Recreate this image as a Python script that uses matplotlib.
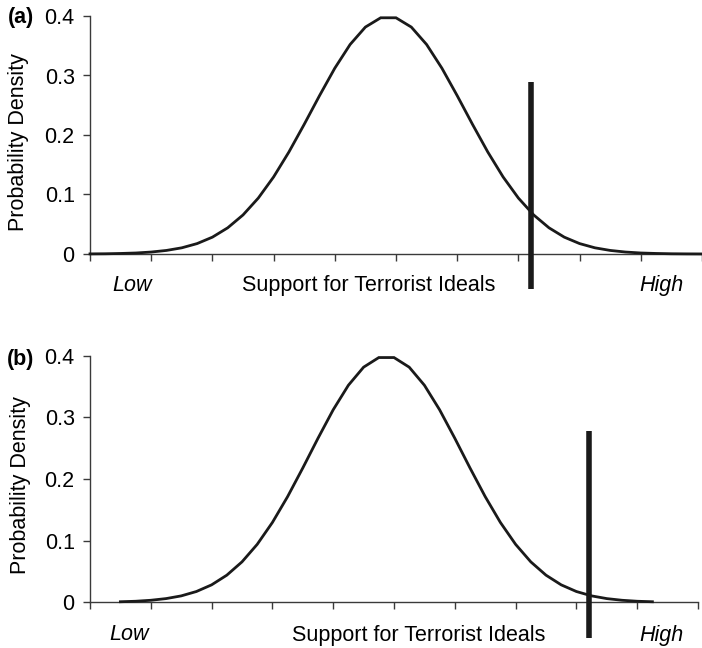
import matplotlib
matplotlib.use("Agg")
import matplotlib.pyplot as plt

plt.rcParams['font.family'] = ['Liberation Sans', 'DejaVu Sans']

# Category positions (index along the horizontal axis, 0..40)
pos_a = list(range(0, 41))
dens_a = [0.0002, 0.0004, 0.0009, 0.0017, 0.0033, 0.0060, 0.0104, 0.0175, 0.0283, 0.0440,
          0.0656, 0.0940, 0.1295, 0.1714, 0.2179, 0.2661, 0.3123, 0.3521, 0.3814, 0.3970,
          0.3970, 0.3814, 0.3521, 0.3123, 0.2661, 0.2179, 0.1714, 0.1295, 0.0940, 0.0656,
          0.0440, 0.0283, 0.0175, 0.0104, 0.0060, 0.0033, 0.0017, 0.0009, 0.0004, 0.0002,
          0.0001]
pos_b = list(range(2, 38))
dens_b = [0.0009, 0.0017, 0.0033, 0.0060, 0.0104, 0.0175, 0.0283, 0.0440,
          0.0656, 0.0940, 0.1295, 0.1714, 0.2179, 0.2661, 0.3123, 0.3521, 0.3814, 0.3970,
          0.3970, 0.3814, 0.3521, 0.3123, 0.2661, 0.2179, 0.1714, 0.1295, 0.0940, 0.0656,
          0.0440, 0.0283, 0.0175, 0.0104, 0.0060, 0.0033, 0.0017, 0.0009]

# Threshold markers: position, top, bottom
thr_a = (28.8, 0.289, -0.059)
thr_b = (32.8, 0.278, -0.058)

yticks = [0, 0.1, 0.2, 0.3, 0.4]
ytick_labels = ["0", "0.1", "0.2", "0.3", "0.4"]
xticks = list(range(0, 41, 4))
panel_labels = ["(a)", "(b)"]
ylabel = "Probability Density"
xlabel_mid = "Support for Terrorist Ideals"
xlabel_low = "Low"
xlabel_high = "High"

W, H = 702, 648
fig = plt.figure(figsize=(W / 100, H / 100), dpi=100)

def fx(px):
    return px / W

def fy(py):
    return 1 - py / H

axes_specs = [
    # left, top, right, bottom in pixels
    (90, 16, 702, 254),
    (90, 355.7, 698, 602.3),
]

axs = []
for (l, t, r, b) in axes_specs:
    ax = fig.add_axes([fx(l), fy(b), (r - l) / W, (b - t) / H])
    axs.append(ax)

fs = 15.5
data = [(pos_a, dens_a, thr_a), (pos_b, dens_b, thr_b)]
axis_col = "#3a3a3a"
for ax, (xs, ys, thr) in zip(axs, data):
    ax.plot(xs, ys, color="#1a1a1a", lw=2.0, solid_joinstyle="miter", clip_on=False, zorder=3)
    ax.plot([thr[0], thr[0]], [thr[1], thr[2]], color="#1a1a1a", lw=4.0,
            solid_capstyle="butt", clip_on=False, zorder=4)
    ax.set_xlim(0, 40)
    ax.set_ylim(0, 0.4)
    for s in ["top", "right"]:
        ax.spines[s].set_visible(False)
    for s in ["left", "bottom"]:
        ax.spines[s].set_color(axis_col)
        ax.spines[s].set_linewidth(1.0)
    ax.set_yticks(yticks)
    ax.set_yticklabels(ytick_labels)
    ax.set_xticks(xticks)
    ax.set_xticklabels([])
    ax.tick_params(axis="y", direction="out", length=5, width=1.0, color=axis_col,
                   labelsize=fs, pad=6)
    ax.tick_params(axis="x", direction="out", length=5, width=1.0, color=axis_col)
    ax.patch.set_alpha(0)

# Panel (a) texts
fig.text(fx(21), fy(18), panel_labels[0], fontsize=fs, fontweight="bold", ha="center", va="center")
fig.text(fx(19), fy(142), ylabel, fontsize=fs, rotation=90, ha="center", va="center")
fig.text(fx(132), fy(285), xlabel_low, fontsize=fs, style="italic", ha="center", va="center")
fig.text(fx(369), fy(285), xlabel_mid, fontsize=fs, ha="center", va="center")
fig.text(fx(661), fy(285), xlabel_high, fontsize=fs, style="italic", ha="center", va="center")

# Panel (b) texts
fig.text(fx(21), fy(359), panel_labels[1], fontsize=fs, fontweight="bold", ha="center", va="center")
fig.text(fx(21), fy(485), ylabel, fontsize=fs, rotation=90, ha="center", va="center")
fig.text(fx(129), fy(635), xlabel_low, fontsize=fs, style="italic", ha="center", va="center")
fig.text(fx(419), fy(635), xlabel_mid, fontsize=fs, ha="center", va="center")
fig.text(fx(661), fy(635), xlabel_high, fontsize=fs, style="italic", ha="center", va="center")

fig.savefig("out.png", dpi=100)
